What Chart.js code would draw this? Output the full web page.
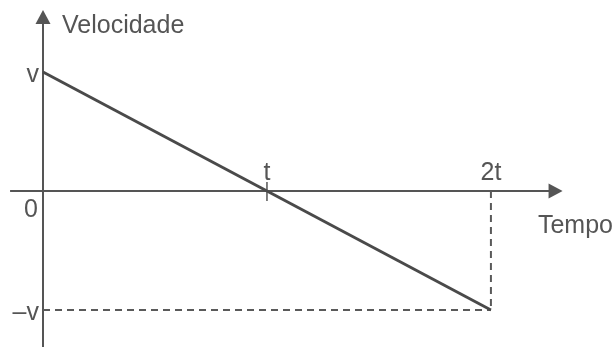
<!DOCTYPE html>
<html>
<head>
<meta charset="UTF-8">
<title>Velocidade x Tempo</title>
<script src="https://cdn.jsdelivr.net/npm/chart.js@4.4.0/dist/chart.umd.min.js"></script>
<style>
body{margin:0;background:#fff;}
#wrap{width:615px;height:347px;}
</style>
</head>
<body>
<div id="wrap"><canvas id="grafico" width="615" height="347"></canvas></div>
<script>
// valores em unidades de t (tempo) e v (velocidade)
var tempo = [0, 2]
var velocidade = [1, -1]
var marcasTempo = [1, 2]
var rotulosTempo = ['t', '2t']
var marcasVel = [1, 0, -1]
var rotulosVel = ['v', '0', '–v']
var tituloY = 'Velocidade'
var tituloX = 'Tempo'

var cinza = '#555'
var fonte = '25px "Liberation Sans", Arial, sans-serif'

// eixos com setas, marca em t, rotulos
var eixos = {
	id: 'eixos',
	beforeDatasetsDraw: function(chart) {
		var ctx = chart.ctx
		var sx = chart.scales.x, sy = chart.scales.y
		var x0 = sx.getPixelForValue(0), y0 = sy.getPixelForValue(0)
		var esq = sx.getPixelForValue(-0.147), dir = sx.getPixelForValue(2.32)
		var topo = sy.getPixelForValue(1.52), base = sy.getPixelForValue(-1.31)
		ctx.save()
		ctx.strokeStyle = cinza
		ctx.fillStyle = cinza
		ctx.lineWidth = 2
		ctx.beginPath()
		ctx.moveTo(esq, y0); ctx.lineTo(dir - 10, y0)
		ctx.moveTo(x0, base); ctx.lineTo(x0, topo + 10)
		ctx.stroke()
		// setas
		ctx.beginPath()
		ctx.moveTo(dir, y0); ctx.lineTo(dir - 14, y0 - 7.5); ctx.lineTo(dir - 14, y0 + 7.5)
		ctx.closePath(); ctx.fill()
		ctx.beginPath()
		ctx.moveTo(x0, topo); ctx.lineTo(x0 - 7.5, topo + 14); ctx.lineTo(x0 + 7.5, topo + 14)
		ctx.closePath(); ctx.fill()
		// marca em t
		ctx.lineWidth = 1.5
		var xt = sx.getPixelForValue(marcasTempo[0])
		ctx.beginPath()
		ctx.moveTo(xt, y0 - 9); ctx.lineTo(xt, y0 + 10)
		ctx.stroke()
		ctx.restore()
	},
	afterDatasetsDraw: function(chart) {
		var ctx = chart.ctx
		var sx = chart.scales.x, sy = chart.scales.y
		var x0 = sx.getPixelForValue(0), y0 = sy.getPixelForValue(0)
		ctx.save()
		ctx.fillStyle = cinza
		ctx.font = fonte
		ctx.textBaseline = 'alphabetic'
		ctx.textAlign = 'center'
		marcasTempo.forEach(function(m, i) {
			ctx.fillText(rotulosTempo[i], sx.getPixelForValue(m), y0 - 11)
		})
		ctx.textAlign = 'right'
		marcasVel.forEach(function(m, i) {
			var yy = sy.getPixelForValue(m)
			if (m == 0) ctx.fillText(rotulosVel[i], x0 - 5, yy + 26)
			else ctx.fillText(rotulosVel[i], x0 - 4, yy + 10)
		})
		ctx.textAlign = 'left'
		ctx.fillText(tituloY, x0 + 19, sy.getPixelForValue(1.52) + 23)
		ctx.fillText(tituloX, sx.getPixelForValue(2.21), y0 + 42)
		ctx.restore()
	}
}

var ctx = document.getElementById('grafico').getContext('2d')
var chart = new Chart(ctx, {
	type: 'line',
	data: {
		datasets: [{
			data: tempo.map(function(t, i) { return {x: t, y: velocidade[i]} }),
			borderColor: '#4a4a4a',
			borderWidth: 3
		}, {
			data: [{x: tempo[1], y: 0}, {x: tempo[1], y: velocidade[1]}],
			borderColor: '#5a5a5a',
			borderWidth: 2,
			borderDash: [7, 5]
		}, {
			data: [{x: tempo[0], y: velocidade[1]}, {x: tempo[1], y: velocidade[1]}],
			borderColor: '#5a5a5a',
			borderWidth: 2,
			borderDash: [7, 5]
		}]
	},
	options: {
		responsive: false,
		animation: false,
		layout: {padding: 0},
		elements: {point: {radius: 0}},
		plugins: {legend: {display: false}, tooltip: {enabled: false}},
		scales: {
			x: {type: 'linear', min: -0.192, max: 2.554, display: false},
			y: {type: 'linear', min: -1.311, max: 1.605, display: false}
		}
	},
	plugins: [eixos]
})
</script>
</body>
</html>
